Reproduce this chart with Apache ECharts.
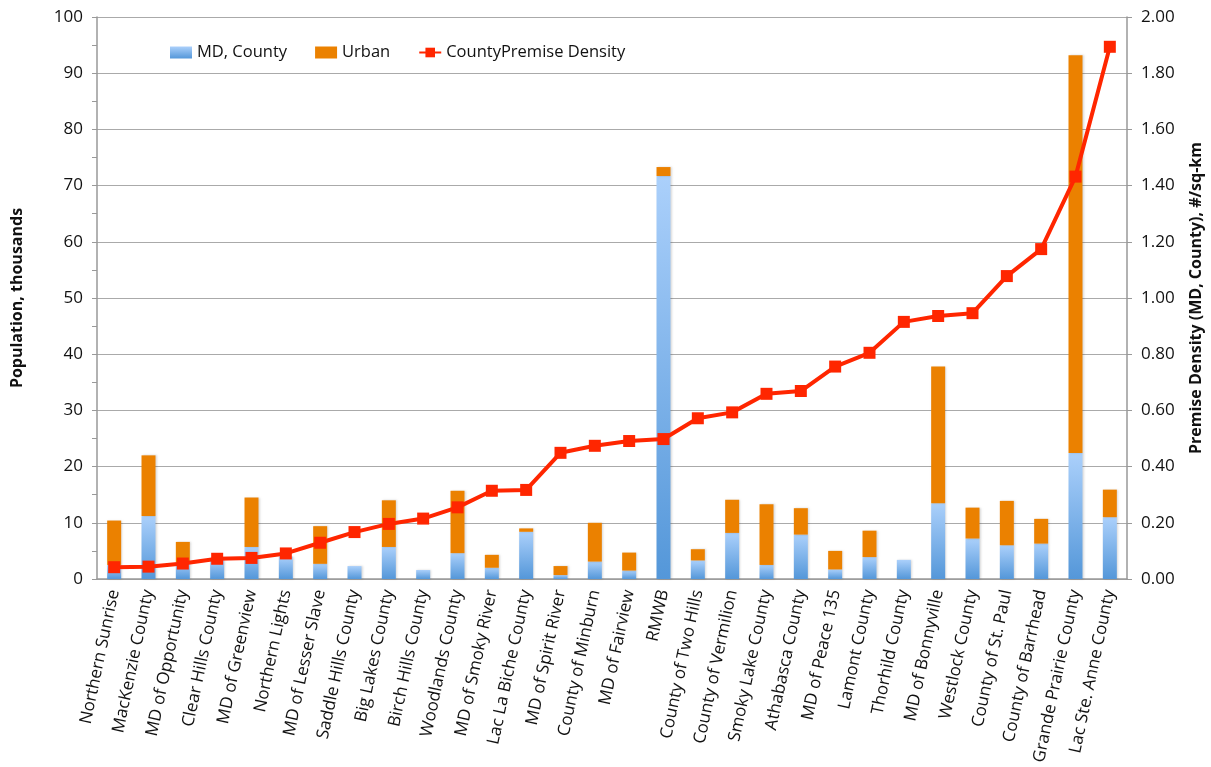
<!DOCTYPE html>
<html>
<head>
<meta charset="utf-8">
<title>Population and premise density</title>
<script src="https://cdn.jsdelivr.net/npm/echarts@6/dist/echarts.min.js"></script>
<style>
  html, body { margin: 0; padding: 0; background: #fff; }
  #chart { width: 1211px; height: 767px; }
</style>
</head>
<body>
<div id="chart"></div>
<script>
// categories, left to right
const districts = [
  'Northern Sunrise', 'MacKenzie County', 'MD of Opportunity', 'Clear Hills County',
  'MD of Greenview', 'Northern Lights', 'MD of Lesser Slave', 'Saddle Hills County',
  'Big Lakes County', 'Birch Hills County', 'Woodlands County', 'MD of Smoky River',
  'Lac La Biche County', 'MD of Spirit River', 'County of Minburn', 'MD of Fairview',
  'RMWB', 'County of Two Hills', 'County of Vermilion', 'Smoky Lake County',
  'Athabasca County', 'MD of Peace 135', 'Lamont County', 'Thorhild County',
  'MD of Bonnyville', 'Westlock County', 'County of St. Paul', 'County of Barrhead',
  'Grande Prairie County', 'Lac Ste. Anne County'
]

// population (thousands), rural part
const mdCounty = [
  2.5, 11.2, 3.0, 3.5, 5.7, 4.0, 2.7, 2.3, 5.7, 1.6,
  4.6, 2.0, 8.4, 0.7, 3.1, 1.5, 71.7, 3.3, 8.2, 2.5,
  7.9, 1.7, 3.9, 3.4, 13.5, 7.2, 6.0, 6.3, 22.4, 11.0
]

// population (thousands), urban part stacked on top
const urban = [
  7.9, 10.8, 3.6, 0, 8.8, 0, 6.7, 0, 8.3, 0,
  11.1, 2.3, 0.6, 1.6, 6.9, 3.2, 1.6, 2.0, 5.9, 10.8,
  4.7, 3.3, 4.7, 0, 24.3, 5.5, 7.9, 4.4, 70.8, 4.9
]

// premise density, #/sq-km (right axis)
const density = [
  0.042, 0.044, 0.055, 0.072, 0.075, 0.091, 0.129, 0.167, 0.196, 0.215,
  0.255, 0.314, 0.317, 0.449, 0.474, 0.491, 0.498, 0.572, 0.593, 0.659,
  0.669, 0.756, 0.805, 0.915, 0.936, 0.946, 1.078, 1.174, 1.432, 1.894
]

const font = 'Open Sans'
const chart = echarts.init(document.getElementById('chart'), null, { renderer: 'canvas' })

const blueFill = new echarts.graphic.LinearGradient(0, 0, 0, 1, [
  { offset: 0, color: '#abd0fb' },
  { offset: 1, color: '#5497d9' }
])

chart.setOption({
  animation: false,
  textStyle: { fontFamily: font },
  grid: {
    left: 97, right: 84, top: 17, bottom: 188,
    containLabel: false,
    outerBoundsMode: 'none'
  },
  legend: {
    top: 39,
    left: 165,
    itemGap: 28,
    itemWidth: 22,
    itemHeight: 12,
    textStyle: { fontSize: 16.5, color: '#111', fontFamily: font },
    data: [
      { name: 'MD, County', icon: 'rect' },
      { name: 'Urban', icon: 'rect' },
      { name: 'CountyPremise Density' }
    ]
  },
  xAxis: {
    type: 'category',
    data: districts,
    axisLine: { lineStyle: { color: '#999', width: 1.5 } },
    axisTick: { show: false },
    axisLabel: {
      interval: 0,
      rotate: 78,
      fontSize: 17,
      color: '#111',
      margin: 11,
      fontFamily: font
    }
  },
  yAxis: [
    {
      type: 'value',
      min: 0,
      max: 100,
      interval: 10,
      name: 'Population, thousands',
      nameLocation: 'middle',
      nameGap: 72,
      nameTextStyle: { fontSize: 16, fontWeight: 'bold', color: '#111', fontFamily: font },
      axisLine: { show: true, lineStyle: { color: '#999', width: 1.5 } },
      axisTick: { show: true, length: 5, lineStyle: { color: '#999' } },
      minorTick: { show: true, splitNumber: 2, length: 5, lineStyle: { color: '#999' } },
      axisLabel: { fontSize: 17, color: '#111', margin: 14, fontFamily: font },
      splitLine: { lineStyle: { color: '#aaa', width: 1.2 } }
    },
    {
      type: 'value',
      min: 0,
      max: 2,
      interval: 0.2,
      name: 'Premise Density (MD, County), #/sq-km',
      nameLocation: 'middle',
      nameGap: 61,
      nameRotate: 90,
      nameTextStyle: { fontSize: 16, fontWeight: 'bold', color: '#111', fontFamily: font },
      axisLine: { show: true, lineStyle: { color: '#999', width: 1.5 } },
      axisTick: { show: true, length: 5, lineStyle: { color: '#999' } },
      axisLabel: {
        fontSize: 17,
        color: '#111',
        margin: 14,
        fontFamily: font,
        formatter: v => v.toFixed(2)
      },
      splitLine: { show: false }
    }
  ],
  series: [
    {
      name: 'MD, County',
      type: 'bar',
      stack: 'pop',
      barWidth: 14,
      data: mdCounty,
      itemStyle: {
        color: blueFill,
        shadowColor: 'rgba(0,0,0,0.15)',
        shadowBlur: 2,
        shadowOffsetX: 1
      }
    },
    {
      name: 'Urban',
      type: 'bar',
      stack: 'pop',
      barWidth: 14,
      data: urban,
      itemStyle: {
        color: '#eb8100',
        shadowColor: 'rgba(0,0,0,0.15)',
        shadowBlur: 2,
        shadowOffsetX: 1
      }
    },
    {
      name: 'CountyPremise Density',
      type: 'line',
      yAxisIndex: 1,
      data: density,
      symbol: 'rect',
      symbolSize: 12,
      z: 5,
      lineStyle: { color: '#ff2600', width: 4 },
      itemStyle: { color: '#ff2600' }
    }
  ]
})
</script>
</body>
</html>
